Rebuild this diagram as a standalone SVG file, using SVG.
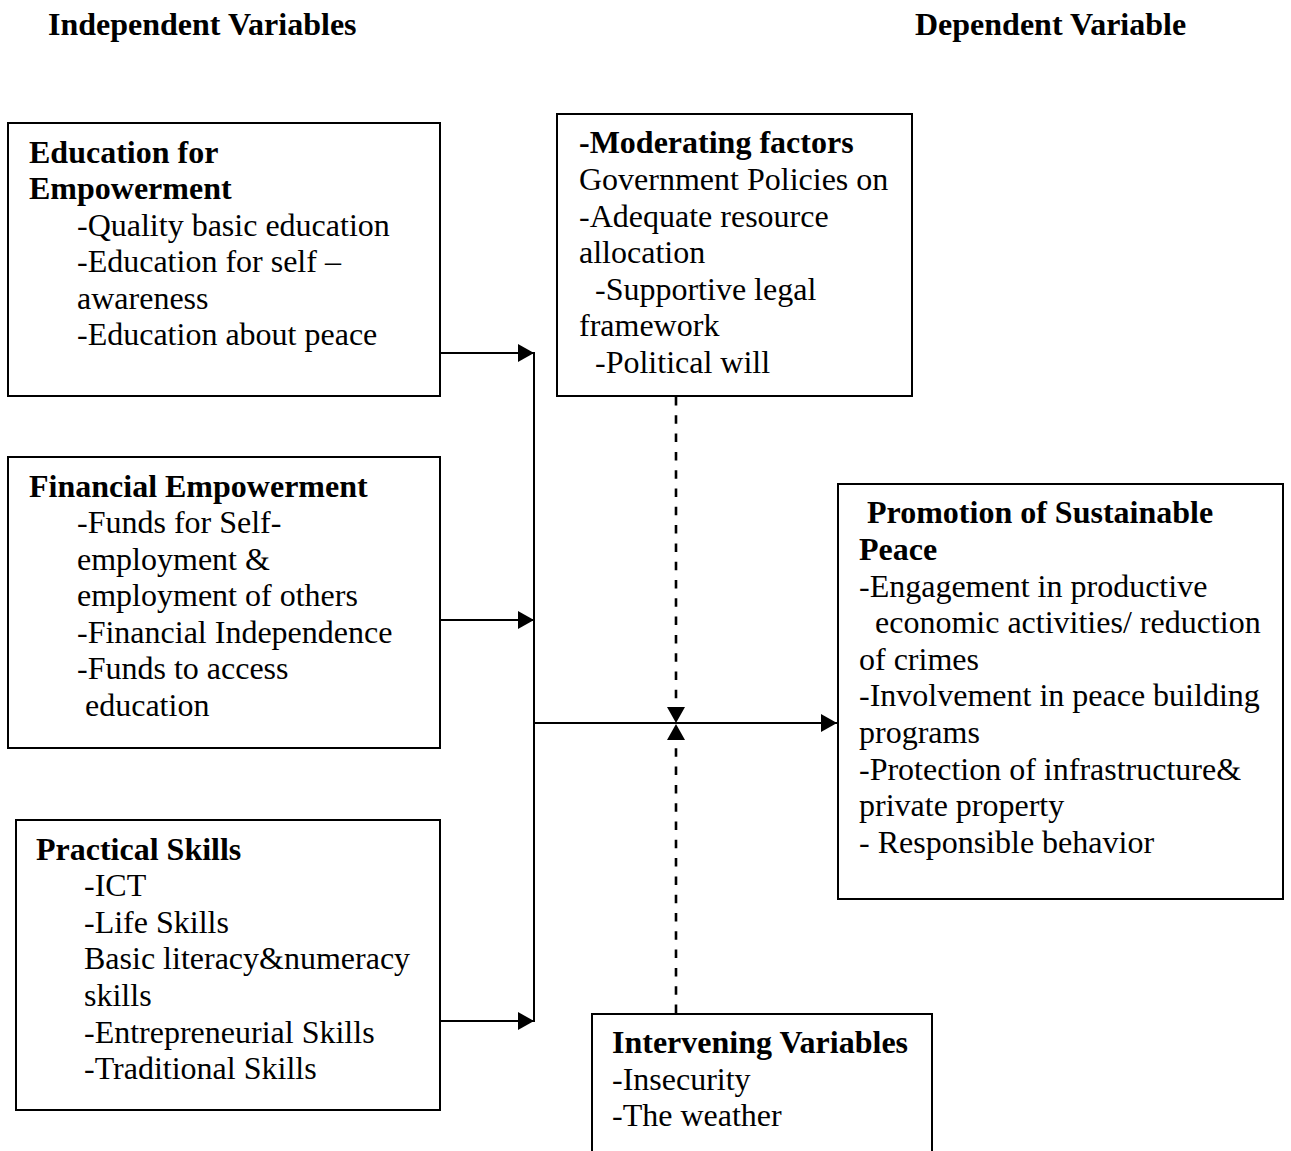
<svg xmlns="http://www.w3.org/2000/svg" width="1291" height="1151" viewBox="0 0 1291 1151">
<style>
text{font-family:"Liberation Serif","Times New Roman",serif;font-size:32px;fill:#000;white-space:pre}
.b{font-weight:bold}
.box{fill:#fff;stroke:#000;stroke-width:2}
.ln{stroke:#000;stroke-width:2;fill:none}
.dash{stroke:#000;stroke-width:2.6;fill:none;stroke-dasharray:8.5 9.8}
</style>
<defs>
<marker id="ah" markerUnits="userSpaceOnUse" markerWidth="16" markerHeight="18" refX="16" refY="9" orient="auto">
<path d="M0,0 L16,9 L0,18 z" fill="#000"/>
</marker>
</defs>
<rect width="1291" height="1151" fill="#fff"/>
<g id="headers">
<text class="b" x="48" y="35">Independent Variables</text>
<text class="b" x="915" y="35">Dependent Variable</text>
</g>
<g id="connectors">
<line class="ln" x1="441" y1="353" x2="534" y2="353" marker-end="url(#ah)"/>
<line class="ln" x1="441" y1="620" x2="534" y2="620" marker-end="url(#ah)"/>
<line class="ln" x1="441" y1="1021" x2="534" y2="1021" marker-end="url(#ah)"/>
<line class="ln" x1="534" y1="352" x2="534" y2="1022"/>
<line class="ln" x1="534" y1="723" x2="837" y2="723" marker-end="url(#ah)"/>
<line class="dash" x1="676" y1="397" x2="676" y2="723" marker-end="url(#ah)"/>
<line class="dash" x1="676" y1="1013" x2="676" y2="724" marker-end="url(#ah)"/>
</g>
<g id="education">
<rect class="box" x="8" y="123" width="432" height="273"/>
<text class="b" x="29" y="163">Education for</text>
<text class="b" x="29" y="199">Empowerment</text>
<text x="77" y="236">-Quality basic education</text>
<text x="77" y="272">-Education for self –</text>
<text x="77" y="309">awareness</text>
<text x="77" y="345">-Education about peace</text>
</g>
<g id="financial">
<rect class="box" x="8" y="457" width="432" height="291"/>
<text class="b" x="29" y="497">Financial Empowerment</text>
<text x="77" y="533">-Funds for Self-</text>
<text x="77" y="570">employment &amp;</text>
<text x="77" y="606">employment of others</text>
<text x="77" y="643">-Financial Independence</text>
<text x="77" y="679">-Funds to access</text>
<text x="77" y="716"> education</text>
</g>
<g id="practical">
<rect class="box" x="16" y="820" width="424" height="290"/>
<text class="b" x="36" y="860">Practical Skills</text>
<text x="84" y="896">-ICT</text>
<text x="84" y="933">-Life Skills</text>
<text x="84" y="969">Basic literacy&amp;numeracy</text>
<text x="84" y="1006">skills</text>
<text x="84" y="1043">-Entrepreneurial Skills</text>
<text x="84" y="1079">-Traditional Skills</text>
</g>
<g id="moderating">
<rect class="box" x="557" y="114" width="355" height="282"/>
<text class="b" x="579" y="153">-Moderating factors</text>
<text x="579" y="190">Government Policies on</text>
<text x="579" y="227">-Adequate resource</text>
<text x="579" y="263">allocation</text>
<text x="579" y="300">  -Supportive legal</text>
<text x="579" y="336">framework</text>
<text x="579" y="373">  -Political will</text>
</g>
<g id="promotion">
<rect class="box" x="838" y="484" width="445" height="415"/>
<text class="b" x="859" y="523"> Promotion of Sustainable</text>
<text class="b" x="859" y="560">Peace</text>
<text x="859" y="597">-Engagement in productive</text>
<text x="859" y="633">  economic activities/ reduction</text>
<text x="859" y="670">of crimes</text>
<text x="859" y="706">-Involvement in peace building</text>
<text x="859" y="743">programs</text>
<text x="859" y="780">-Protection of infrastructure&amp;</text>
<text x="859" y="816">private property</text>
<text x="859" y="853">- Responsible behavior</text>
</g>
<g id="intervening">
<path class="ln" d="M592,1160 V1014 H932 V1160"/>
<text class="b" x="612" y="1053">Intervening Variables</text>
<text x="612" y="1090">-Insecurity</text>
<text x="612" y="1126">-The weather</text>
</g>
</svg>
